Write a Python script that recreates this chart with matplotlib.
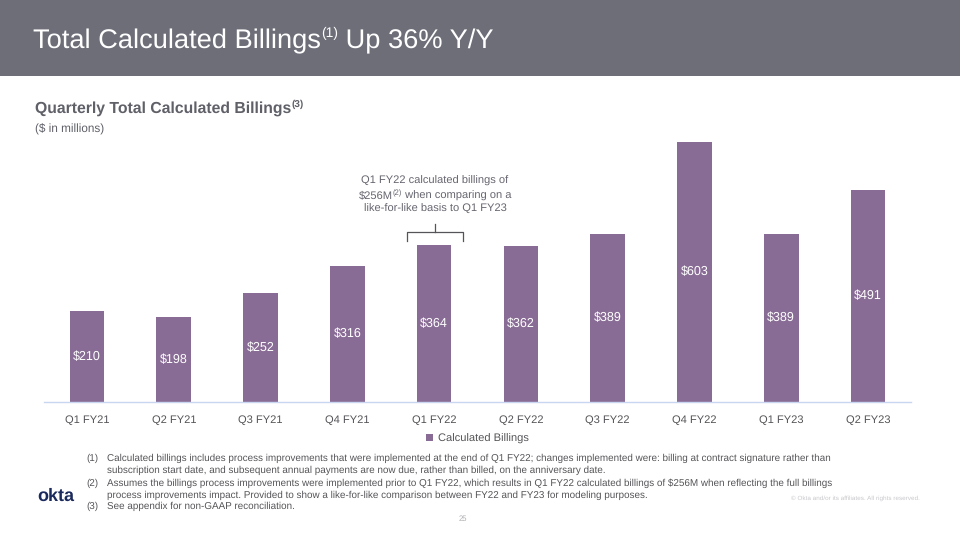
import matplotlib
matplotlib.use("Agg")
import matplotlib.pyplot as plt
from matplotlib.patches import Rectangle

categories = ["Q1 FY21", "Q2 FY21", "Q3 FY21", "Q4 FY21", "Q1 FY22",
              "Q2 FY22", "Q3 FY22", "Q4 FY22", "Q1 FY23", "Q2 FY23"]
billings = [210, 198, 252, 316, 364, 362, 389, 603, 389, 491]
value_labels = ["$210", "$198", "$252", "$316", "$364", "$362", "$389", "$603", "$389", "$491"]
series_name = "Calculated Billings"

plt.rcParams['font.family'] = ['Liberation Sans', 'DejaVu Sans']
plt.rcParams['text.parse_math'] = False
plt.rcParams['text.hinting'] = 'no_hinting'

W, H = 960, 540
fig = plt.figure(figsize=(9.6, 5.4), dpi=100)
fig.patch.set_facecolor("white")
renderer = fig.canvas.get_renderer()

def fx(x): return x / W
def fy(y): return 1 - y / H

def measure(txt, size, **kw):
    t = fig.text(0, 0, txt, fontsize=size, **kw)
    w = t.get_window_extent(renderer).width
    t.remove()
    return w

def sup_text(x, y, parts, **kw):
    """parts: list of (text, size, dy_px). Draws consecutive pieces left to right."""
    cur = x
    for txt, size, dy in parts:
        t = fig.text(fx(cur), fy(y + dy), txt, fontsize=size, va="baseline", ha="left", **kw)
        cur += t.get_window_extent(renderer).width

# header bar
fig.patches.append(Rectangle((0, fy(76)), 1, 76 / H, transform=fig.transFigure,
                             facecolor="#6d6e78", edgecolor="none", zorder=0))
sup_text(33, 48, [("Total Calculated Billings", 19.6, 0), ("(1)", 10, -11),
                  (" Up 36% Y/Y", 19.6, 0)], color="white")

sup_text(35, 113, [("Quarterly Total Calculated Billings", 11.3, 0), ("(3)", 7.2, -6)],
         color="#5f6068", fontweight="bold")
fig.text(fx(35), fy(129), "($ in millions)", color="#5f6068", fontsize=8.5, va="center", ha="left")

bar_color = "#896c95"
ax = fig.add_axes([fx(43.6), fy(402), fx(911.4) - fx(43.6), (402 - 134.8) / H])
x = list(range(len(categories)))
ax.bar(x, billings, width=0.4, color=bar_color, label=series_name, zorder=2)
ax.set_xlim(-0.5, len(categories) - 0.5)
ax.set_ylim(0, 620)
for i, (v, lab) in enumerate(zip(billings, value_labels)):
    ax.text(i, v / 2, lab, color="white", fontsize=9, ha="center", va="center", zorder=3)
for s in ["top", "right", "left"]:
    ax.spines[s].set_visible(False)
ax.spines["bottom"].set_color("#c9d6f2")
ax.spines["bottom"].set_linewidth(1.0)
ax.set_yticks([])
ax.set_xticks(x)
ax.set_xticklabels(categories, color="#555559", fontsize=8)
ax.tick_params(axis="x", length=0, pad=9)
ax.set_facecolor("none")

leg = ax.legend(loc="upper center", bbox_to_anchor=(0.5, -0.082), frameon=False,
                fontsize=8, handlelength=0.6, handleheight=0.6, handletextpad=0.4)
for t in leg.get_texts():
    t.set_color("#555559")

# annotation
ann_col = "#666670"
fig.text(fx(435), fy(181), "Q1 FY22 calculated billings of", ha="center", va="center",
         fontsize=8, color=ann_col)
fig.text(fx(435), fy(209), "like-for-like basis to Q1 FY23", ha="center", va="center",
         fontsize=8, color=ann_col)
mid_parts = [("$256M", 8, 0), ("(2)", 5.5, -3.5), (" when comparing on a", 8, 0)]
total_w = sum(measure(t, s) for t, s, _ in mid_parts)
sup_text(435 - total_w / 2, 198.5, mid_parts, color=ann_col)

bx0, bx1, by_top, by_bot, bmid_top = 407, 463, 232, 241, 224
xs = [bx0, bx0, bx1, bx1]
ys = [by_bot, by_top, by_top, by_bot]
fig.add_artist(plt.Line2D([fx(v) for v in xs], [fy(v) for v in ys],
                          transform=fig.transFigure, color="#555559", lw=0.9))
fig.add_artist(plt.Line2D([fx(435), fx(435)], [fy(by_top), fy(bmid_top)],
                          transform=fig.transFigure, color="#555559", lw=0.9))

# footnotes
notes = [
    ("(1)", 458, "Calculated billings includes process improvements that were implemented at the end of Q1 FY22; changes implemented were: billing at contract signature rather than"),
    ("", 470, "subscription start date, and subsequent annual payments are now due, rather than billed, on the anniversary date."),
    ("(2)", 483, "Assumes the billings process improvements were implemented prior to Q1 FY22, which results in Q1 FY22 calculated billings of $256M when reflecting the full billings"),
    ("", 495, "process improvements impact. Provided to show a like-for-like comparison between FY22 and FY23 for modeling purposes."),
    ("(3)", 506, "See appendix for non-GAAP reconciliation."),
]
for num, yy, txt in notes:
    if num:
        fig.text(fx(86), fy(yy), num, fontsize=7.1, color="#555559", va="center", ha="left")
    fig.text(fx(107), fy(yy), txt, fontsize=7.1, color="#555559", va="center", ha="left")

fig.text(fx(37), fy(496), "okta", fontsize=13, fontweight="bold", color="#1b2a5c",
         va="center", ha="left")
fig.text(fx(920), fy(498), "© Okta and/or its affiliates. All rights reserved.",
         fontsize=4.6, color="#c8c8cc", va="center", ha="right")
fig.text(fx(463), fy(519), "25", fontsize=5.5, color="#b0b0b5", va="center", ha="center")

fig.savefig("out.png", dpi=100)
